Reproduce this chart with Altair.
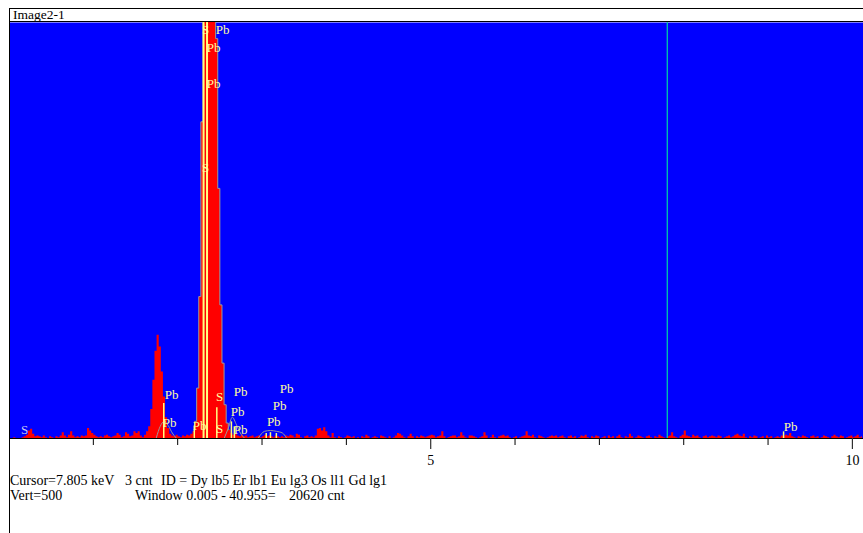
import altair as alt
import pandas as pd

# ---------------- data ----------------
BIN_KEV = 0.025
counts = [
    0, 0, 1, 0, 0, 0, 1, 2, 4, 9, 11, 5, 2, 3, 2, 1, 3, 1, 0, 2,
    1, 0, 2, 1, 3, 7, 3, 1, 4, 8, 3, 1, 2, 1, 3, 2, 3, 12, 9, 6,
    4, 2, 1, 2, 1, 3, 4, 2, 1, 2, 3, 6, 4, 1, 2, 7, 5, 2, 3, 8,
    6, 8, 3, 1, 4, 8, 14, 35, 70, 105, 124, 110, 80, 50, 25, 12, 5, 3, 2, 4,
    2, 1, 3, 2, 4, 3, 5, 8, 20, 60, 170, 380, 650, 1000, 1250, 1300, 1200, 900, 480, 300,
    160, 90, 40, 18, 10, 6, 4, 5, 3, 2, 4, 2, 3, 1, 2, 3, 1, 2, 3, 1,
    2, 4, 2, 3, 2, 1, 3, 2, 1, 2, 1, 3, 2, 4, 3, 1, 5, 4, 1, 0,
    2, 3, 1, 2, 1, 3, 11, 12, 9, 13, 8, 3, 1, 6, 1, 0, 2, 1, 0, 1,
    3, 2, 1, 2, 0, 1, 0, 2, 1, 4, 2, 0, 1, 2, 1, 0, 3, 2, 1, 0,
    2, 0, 1, 3, 6, 5, 3, 1, 0, 2, 5, 2, 0, 2, 1, 3, 2, 1, 2, 3,
    4, 3, 1, 2, 3, 8, 2, 0, 1, 2, 3, 3, 1, 2, 7, 3, 1, 0, 3, 3,
    2, 1, 0, 1, 2, 7, 3, 0, 1, 4, 1, 0, 2, 3, 4, 2, 3, 1, 0, 1,
    2, 0, 1, 2, 3, 8, 3, 2, 4, 1, 0, 3, 2, 1, 0, 1, 2, 3, 2, 3,
    1, 2, 3, 1, 0, 2, 3, 1, 2, 0, 1, 3, 2, 4, 1, 0, 2, 1, 3, 2,
    0, 1, 2, 0, 3, 1, 2, 0, 2, 4, 1, 0, 2, 1, 5, 2, 0, 1, 3, 2,
    1, 0, 2, 3, 1, 0, 2, 1, 4, 2, 1, 0, 2, 3, 7, 2, 1, 0, 2, 4,
    9, 3, 2, 1, 4, 2, 3, 1, 0, 2, 3, 1, 2, 3, 2, 1, 3, 2, 0, 1,
    2, 3, 1, 2, 4, 5, 3, 2, 5, 1, 0, 2, 1, 3, 2, 0, 1, 2, 0, 3,
    1, 2, 0, 1, 2, 1, 3, 2, 4, 3, 6, 2, 1, 0, 2, 1, 3, 2, 1, 0,
    2, 3, 1, 2, 0, 1, 3, 2, 1, 0, 2, 4, 2, 1, 3, 2, 0, 1, 2, 3,
    1, 2, 4, 1, 2,
]
channel_start = [round(i * BIN_KEV, 4) for i in range(len(counts))]

# element marker lines (energy keV, relative height in counts)
major_marker_kev = [2.307, 2.348]
major_marker_cnt = [500, 500]
minor_marker_kev = [1.835, 2.464, 2.197, 2.637, 2.672, 3.05, 3.10, 3.17, 9.184]
minor_marker_cnt = [42, 37, 15, 20, 14, 6, 7, 6, 8]

# theoretical Pb line profiles (grey outlines)
fit_group = ["a"] * 6 + ["b"] * 6 + ["c"] * 6
fit_kev = [1.746, 1.793, 1.841, 1.888, 1.936, 1.983,
           2.553, 2.601, 2.648, 2.696, 2.743, 2.791,
           2.957, 3.029, 3.100, 3.171, 3.242, 3.290]
fit_cnt = [0, 14, 20, 15, 6, 0,
           0, 12, 25, 16, 6, 0,
           0, 8, 9, 8, 6, 0]

# peak labels
label_text = ["S", "Pb", "Pb", "Pb", "S", "S", "Pb", "Pb", "Pb", "Pb", "Pb", "Pb", "Pb",
              "S", "Pb", "Pb", "Pb", "S"]
label_kev = [0.186, 1.929, 1.905, 2.261, 2.498, 2.498, 2.747, 2.712, 2.747, 3.293, 3.210, 3.139, 9.268,
             2.332, 2.534, 2.427, 2.427, 2.332]
label_cnt = [9.6, 51.7, 18.0, 14.4, 49.3, 10.8, 55.3, 31.3, 9.6, 58.9, 38.5, 19.2, 13.2,
             490, 490, 469, 425, 324]

cursor_kev = [7.805]
tick_kev = [1, 2, 3, 4, 6, 7, 8, 9]
major_tick_kev = [5, 10]
major_tick_label = ["5", "10"]

title_text = "Image2-1"
footer_line1 = ["Cursor=7.805 keV", "3 cnt", "ID = Dy lb5  Er lb1  Eu lg3  Os ll1  Gd lg1"]
footer_line2 = ["Vert=500", "Window 0.005 - 40.955=", "20620 cnt"]

# ---------------- layout ----------------
W, H = 854, 416
XMAX = W / 84.34
FONT = "Liberation Serif"

spec = pd.DataFrame({"e0": channel_start, "c": counts})
spec["em"] = spec["e0"] + BIN_KEV / 2

xs = alt.Scale(domain=[0, XMAX], nice=False, zero=False)
ys = alt.Scale(domain=[0, 500], nice=False, zero=True)


def X(f):
    return alt.X(f, scale=xs, axis=None)


def Y(f):
    return alt.Y(f, scale=ys, axis=None)


one = pd.DataFrame({"k": [0]})

# spectrum as a stepped filled area (no seams between channels)
spectrum = alt.Chart(spec).mark_area(
    color="#ff0000", interpolate="step", clip=True, opacity=1
).encode(x=X("em:Q"), y=Y("c:Q"))

outline = alt.Chart(spec).transform_filter(
    "datum.em > 2.17 && datum.em < 2.62"
).mark_line(color="#9a9a9a", strokeWidth=1, interpolate="step", clip=True).encode(
    x=X("em:Q"), y=Y("c:Q")
)

fits = alt.Chart(pd.DataFrame({"g": fit_group, "e": fit_kev, "c": fit_cnt})).mark_line(
    color="#9a9a9a", strokeWidth=1, interpolate="monotone", clip=True
).encode(x=X("e:Q"), y=Y("c:Q"), detail="g:N")

major_markers = alt.Chart(pd.DataFrame({"e": major_marker_kev, "c": major_marker_cnt})).mark_rule(
    color="#ffff80", strokeWidth=2, clip=True
).encode(x=X("e:Q"), y=Y("c:Q"), y2=alt.datum(0))

minor_markers = alt.Chart(pd.DataFrame({"e": minor_marker_kev, "c": minor_marker_cnt})).mark_rule(
    color="#ffff80", strokeWidth=1.5, clip=True
).encode(x=X("e:Q"), y=Y("c:Q"), y2=alt.datum(0))

cursor = alt.Chart(pd.DataFrame({"e": cursor_kev})).mark_rule(
    color="#00d8a0", strokeWidth=1.2
).encode(x=X("e:Q"), y=alt.value(0), y2=alt.value(H))

labels = alt.Chart(pd.DataFrame({"t": label_text, "e": label_kev, "c": label_cnt})).mark_text(
    font=FONT, fontSize=13, align="center", baseline="middle"
).encode(
    x=X("e:Q"), y=Y("c:Q"), text="t:N",
    color=alt.condition("datum.e < 1", alt.value("#c8c8f0"), alt.value("#ffffa0")),
)

axis_line = alt.Chart(one).mark_rule(color="#000000", strokeWidth=1).encode(
    x=alt.value(0), x2=alt.value(W), y=alt.value(H + 0.5)
)
minor_ticks = alt.Chart(pd.DataFrame({"e": tick_kev})).mark_rule(color="#000000").encode(
    x=X("e:Q"), y=alt.value(H), y2=alt.value(H + 7)
)
major_ticks = alt.Chart(pd.DataFrame({"e": major_tick_kev, "t": major_tick_label})).mark_rule(
    color="#303030", strokeWidth=1.2
).encode(x=X("e:Q"), y=alt.value(H), y2=alt.value(H + 11))
tick_labels = alt.Chart(pd.DataFrame({"e": major_tick_kev, "t": major_tick_label})).mark_text(
    font=FONT, fontSize=14, color="#000000", align="center", baseline="alphabetic"
).encode(x=X("e:Q"), y=alt.value(H + 27), text="t:N")

left_border = alt.Chart(one).mark_rule(color="#000000", strokeWidth=1).encode(
    x=alt.value(0.5), y=alt.value(-14), y2=alt.value(H + 100)
)
title_box = alt.Chart(one).mark_rect(fill="#ffffff", stroke="#000000", strokeWidth=1).encode(
    x=alt.value(0.5), x2=alt.value(W + 2), y=alt.value(-13.5), y2=alt.value(-0.5)
)
title = alt.Chart(one).mark_text(
    font=FONT, fontSize=13.5, color="#000000", align="left", baseline="alphabetic"
).encode(x=alt.value(4), y=alt.value(-3), text=alt.value(title_text))


def footer(txt, xpx, ypx):
    return alt.Chart(one).mark_text(
        font=FONT, fontSize=14, color="#000000", align="left", baseline="alphabetic"
    ).encode(x=alt.value(xpx), y=alt.value(ypx), text=alt.value(txt))


f_layers = [
    footer(footer_line1[0], 1, 463),
    footer(footer_line1[1], 116, 463),
    footer(footer_line1[2], 152, 463),
    footer(footer_line2[0], 1, 478),
    footer(footer_line2[1], 126, 478),
    footer(footer_line2[2], 280, 478),
]

chart = alt.layer(
    spectrum, outline, fits, major_markers, minor_markers, cursor, labels,
    axis_line, minor_ticks, major_ticks, tick_labels,
    title_box, title, left_border, *f_layers
).properties(
    width=W, height=H,
    padding={"left": 9, "top": 22, "right": 0, "bottom": 95},
    autosize=alt.AutoSizeParams(type="none"),
    background="#ffffff",
).configure_view(fill="#0000ff", stroke="transparent")

chart.save("out.html", embed_options={"renderer": "svg", "actions": False})
